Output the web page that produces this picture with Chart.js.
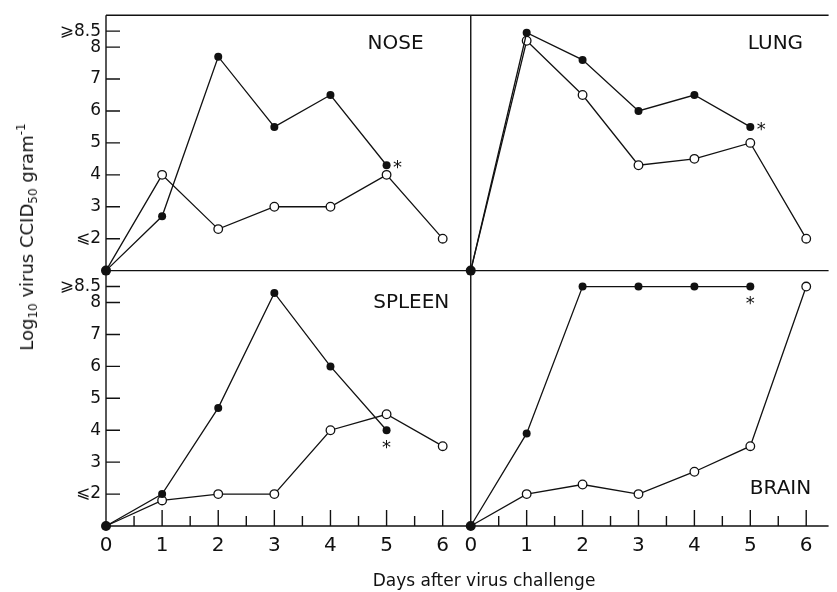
<!DOCTYPE html>
<html>
<head>
<meta charset="utf-8">
<script src="https://cdn.jsdelivr.net/npm/chart.js@4/dist/chart.umd.min.js"></script>
<style>
html,body{margin:0;padding:0;background:#fff}
#wrap{position:relative;width:837px;height:592px;overflow:hidden}
#chart{position:absolute;left:0;top:0}
.ytitle{position:absolute;left:27px;top:237px;transform:translate(-50%,-50%) rotate(-90deg);white-space:nowrap;font:18px "DejaVu Sans",sans-serif;color:#111}
.ytitle sub{font-size:12px;vertical-align:-4px}
.ytitle sup{font-size:12px;vertical-align:8px}
.xtitle{position:absolute;left:484px;top:580px;transform:translate(-50%,-50%);white-space:nowrap;font:17px "DejaVu Sans",sans-serif;color:#111}
</style>
</head>
<body>
<div id="wrap">
  <canvas id="chart" width="837" height="592"></canvas>
  <div class="ytitle">Log<sub>10</sub> virus CCID<sub>50</sub> gram<sup>-1</sup></div>
  <div class="xtitle">Days after virus challenge</div>
</div>
<script>
// days after challenge and axis ticks
const days=[0,1,2,3,4,5,6]
const xTicks=[0,1,2,3,4,5,6]
const xMinorTicks=[0.5,1.5,2.5,3.5,4.5,5.5]
const yTicks=[2,3,4,5,6,7,8,8.5]
const yTickLabels=['⩽2','3','4','5','6','7','8','⩾8.5']

// log10 virus titres, filled (●) and open (○) groups
const noseFilled=[1,2.7,7.7,5.5,6.5,4.3]
const noseOpen=[1,4,2.3,3,3,4,2]
const lungFilled=[1,8.45,7.6,6,6.5,5.5]
const lungOpen=[1,8.2,6.5,4.3,4.5,5,2]
const spleenFilled=[1,2,4.7,8.3,6,4]
const spleenOpen=[1,1.8,2,2,4,4.5,3.5]
const brainFilled=[1,3.9,8.5,8.5,8.5,8.5]
const brainOpen=[1,2,2.3,2,2.7,3.5,8.5]

const ink='#111'
const font='"DejaVu Sans", sans-serif'

const panels=[
  {name:'NOSE',filled:noseFilled,open:noseOpen,x:'xL',y:'yT',label:[5.16,8.09],star:'right'},
  {name:'LUNG',filled:lungFilled,open:lungOpen,x:'xR',y:'yT',label:[5.45,8.09],star:'right'},
  {name:'SPLEEN',filled:spleenFilled,open:spleenOpen,x:'xL',y:'yB',label:[5.44,7.98],star:'below'},
  {name:'BRAIN',filled:brainFilled,open:brainOpen,x:'xR',y:'yB',label:[5.54,2.17],star:'below'}
]

const toXY=arr=>arr.map((v,i)=>({x:days[i],y:v}))

const datasets=[]
panels.forEach(p=>{
  datasets.push({label:p.name+' filled',data:toXY(p.filled),xAxisID:p.x,yAxisID:p.y,
    borderColor:ink,borderWidth:1.3,pointBackgroundColor:ink,pointBorderColor:ink,pointBorderWidth:0,
    pointRadius:c=>c.dataIndex===0?5:4,clip:false,panel:p})
  datasets.push({label:p.name+' open',data:toXY(p.open),xAxisID:p.x,yAxisID:p.y,
    borderColor:ink,borderWidth:1.3,pointBackgroundColor:'#fff',pointBorderColor:ink,pointBorderWidth:1.3,
    pointRadius:c=>c.dataIndex===0?0:4.3,clip:false})
})

function yScale(){
  return {type:'linear',position:'left',stack:'rows',stackWeight:1,min:1,max:9,
    afterFit:s=>{s.width=106},
    afterBuildTicks:s=>{s.ticks=yTicks.map(v=>({value:v}))},
    ticks:{autoSkip:false,padding:5,color:ink,font:{family:font,size:17},callback:v=>yTickLabels[yTicks.indexOf(v)]},
    grid:{display:false,drawTicks:false},border:{display:false}}
}
function xScale(max,weight){
  return {type:'linear',position:'bottom',stack:'cols',stackWeight:weight,min:0,max:max,
    afterFit:s=>{s.height=66},
    afterBuildTicks:s=>{s.ticks=xTicks.map(v=>({value:v}))},
    ticks:{autoSkip:false,maxRotation:0,padding:8,color:ink,font:{family:font,size:20}},
    grid:{display:false,drawTicks:false},border:{display:false}}
}

const panelDecor={
  id:'panelDecor',
  beforeDatasetsDraw(chart){
    const {ctx}=chart
    const {xL,xR,yT,yB}=chart.scales
    ctx.save()
    ctx.strokeStyle=ink
    ctx.lineWidth=1.4
    ctx.beginPath()
    for(const y of [yT.top,yT.bottom,yB.bottom]){ctx.moveTo(xL.left,y);ctx.lineTo(xR.right,y)}
    for(const x of [xL.left,xR.left]){ctx.moveTo(x,yT.top);ctx.lineTo(x,yB.bottom)}
    for(const s of [yT,yB]){
      s.ticks.forEach(t=>{const y=s.getPixelForValue(t.value);ctx.moveTo(xL.left,y);ctx.lineTo(xL.left+14,y)})
    }
    for(const s of [xL,xR]){
      xTicks.forEach(v=>{const x=s.getPixelForValue(v);ctx.moveTo(x,yB.bottom);ctx.lineTo(x,yB.bottom-16)})
      xMinorTicks.forEach(v=>{const x=s.getPixelForValue(v);ctx.moveTo(x,yB.bottom);ctx.lineTo(x,yB.bottom-10)})
    }
    ctx.stroke()
    ctx.restore()
  },
  afterDatasetsDraw(chart){
    const {ctx}=chart
    ctx.save()
    ctx.fillStyle=ink
    ctx.textAlign='center'
    ctx.textBaseline='middle'
    ctx.font='20px '+font
    panels.forEach(p=>{
      const xs=chart.scales[p.x],ys=chart.scales[p.y]
      ctx.fillText(p.name,xs.getPixelForValue(p.label[0]),ys.getPixelForValue(p.label[1]))
    })
    ctx.font='18px '+font
    chart.data.datasets.forEach((d,i)=>{
      if(!d.panel) return
      const pts=chart.getDatasetMeta(i).data
      const last=pts[pts.length-1]
      if(d.panel.star==='right') ctx.fillText('*',last.x+11,last.y+3)
      else ctx.fillText('*',last.x,last.y+18)
    })
    ctx.restore()
  }
}

new Chart(document.getElementById('chart').getContext('2d'),{
  type:'line',
  data:{datasets},
  options:{
    responsive:false,animation:false,
    layout:{padding:{top:15,right:1,left:0,bottom:0}},
    elements:{line:{tension:0}},
    plugins:{legend:{display:false},tooltip:{enabled:false}},
    // left boxes are stacked in reverse order, so the bottom row is listed first
    scales:{yB:yScale(),yT:yScale(),xL:xScale(6.5,369),xR:xScale(6.4,362)}
  },
  plugins:[panelDecor]
})
</script>
</body>
</html>
